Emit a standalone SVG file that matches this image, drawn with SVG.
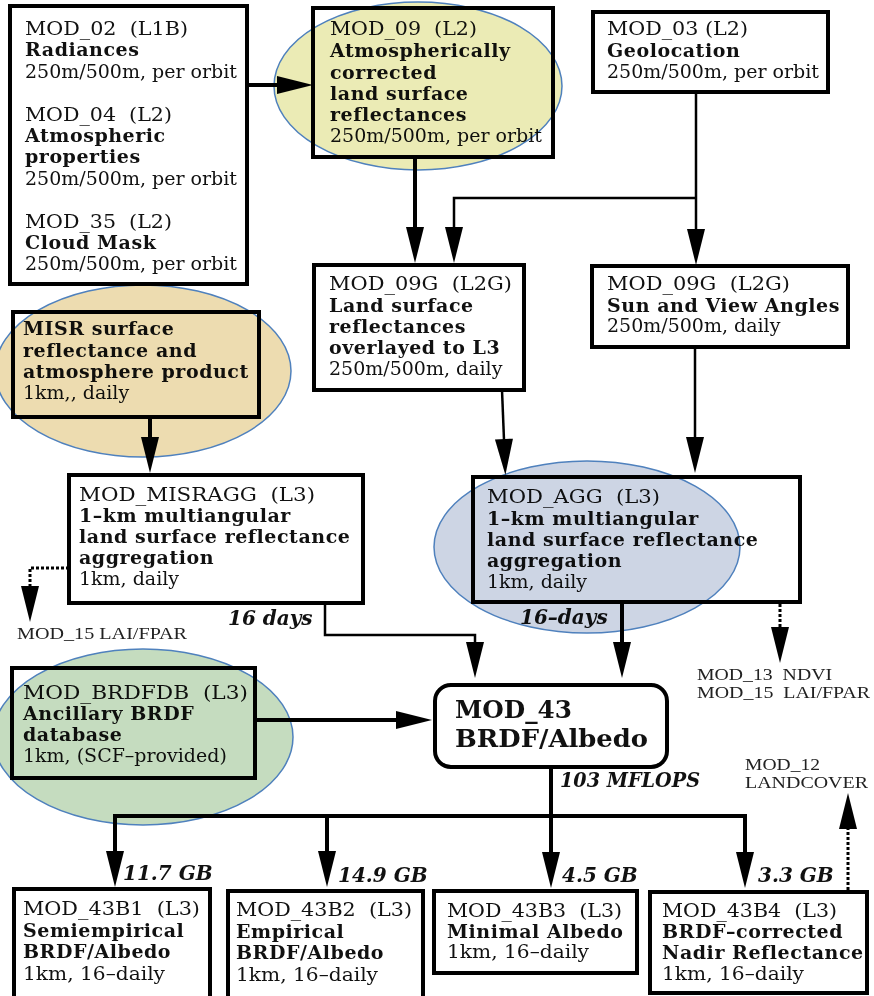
<svg xmlns="http://www.w3.org/2000/svg" width="874" height="996" viewBox="0 0 874 996">
<style>
.bg{fill:#fff}
.box{fill:#fff;stroke:#000;stroke-width:4}
.t{font-family:"DejaVu Serif",serif;font-size:19px;fill:#111}
.b{font-weight:bold;letter-spacing:0.55px}
.bi{font-family:"DejaVu Serif",serif;font-size:20px;font-weight:bold;font-style:italic;fill:#111}
.s{font-family:"Liberation Serif",serif;font-size:16.5px;fill:#222}
.big{font-family:"DejaVu Serif",serif;font-size:24px;font-weight:bold;fill:#111}
.c{fill:none;stroke:#000}
.thick{stroke-width:4}
.thin{stroke-width:2.5}
.dot{stroke-width:3;stroke-dasharray:3 2}
.ell{stroke:#4f81bd;stroke-width:1.5;mix-blend-mode:multiply}
</style>
<defs>
<marker id="ah" markerUnits="userSpaceOnUse" markerWidth="36" markerHeight="18" refX="26" refY="9" orient="auto" overflow="visible">
<path d="M0,0 L36,9 L0,18 z" fill="#000"/>
</marker>
</defs>
<rect class="bg" x="0" y="0" width="874" height="996"/>

<g id="connectors">
<path class="c thick" d="M247,85 H303" marker-end="url(#ah)"/>
<path class="c thick" d="M415,157 V253" marker-end="url(#ah)"/>
<path class="c thin" d="M696,92 V255" marker-end="url(#ah)"/>
<path class="c thin" d="M696,198 H454 V253" marker-end="url(#ah)"/>
<path class="c thin" d="M502,390 L505,465" marker-end="url(#ah)"/>
<path class="c thin" d="M695,347 V463" marker-end="url(#ah)"/>
<path class="c thick" d="M150,417 V463" marker-end="url(#ah)"/>
<path class="c thin" d="M325,603 V635 H475 V668" marker-end="url(#ah)"/>
<path class="c thick" d="M622,602 V668" marker-end="url(#ah)"/>
<path class="c thick" d="M255,720 H422" marker-end="url(#ah)"/>
<path class="c thick" d="M551,767 V878" marker-end="url(#ah)"/>
<path class="c thick" d="M115,816 H745" />
<path class="c thick" d="M115,814 V877" marker-end="url(#ah)"/>
<path class="c thick" d="M327,816 V877" marker-end="url(#ah)"/>
<path class="c thick" d="M745,814 V878" marker-end="url(#ah)"/>
<path class="c dot" d="M69,568 H30 V612" marker-end="url(#ah)"/>
<path class="c dot" d="M780,604 V653" marker-end="url(#ah)"/>
<path class="c dot" d="M848,890 V803" marker-end="url(#ah)"/>
<text class="bi" x="228" y="625">16 days</text>
<text class="bi" x="520" y="624">16–days</text>
<text class="bi" x="560" y="787" textLength="140" lengthAdjust="spacingAndGlyphs">103 MFLOPS</text>
<text class="bi" x="123" y="880">11.7 GB</text>
<text class="bi" x="338" y="882">14.9 GB</text>
<text class="bi" x="562" y="882">4.5 GB</text>
<text class="bi" x="758" y="882">3.3 GB</text>
</g>

<g id="mod02">
<rect class="box" x="10" y="6" width="237" height="278"/>
<text class="t" x="25" y="35" textLength="163" lengthAdjust="spacingAndGlyphs">MOD_02&#160; (L1B)</text>
<text class="t b" x="25" y="56.4">Radiances</text>
<text class="t" x="25" y="77.8">250m/500m, per orbit</text>
<text class="t" x="25" y="120.6" textLength="147" lengthAdjust="spacingAndGlyphs">MOD_04&#160; (L2)</text>
<text class="t b" x="25" y="142">Atmospheric</text>
<text class="t b" x="25" y="163.4">properties</text>
<text class="t" x="25" y="184.8">250m/500m, per orbit</text>
<text class="t" x="25" y="227.6" textLength="147" lengthAdjust="spacingAndGlyphs">MOD_35&#160; (L2)</text>
<text class="t b" x="25" y="249">Cloud Mask</text>
<text class="t" x="25" y="270.4">250m/500m, per orbit</text>
</g>

<g id="mod09">
<rect class="box" x="313" y="8" width="240" height="149"/>
<text class="t" x="330" y="35" textLength="147" lengthAdjust="spacingAndGlyphs">MOD_09&#160; (L2)</text>
<text class="t b" x="330" y="57">Atmospherically</text>
<text class="t b" x="330" y="78.5">corrected</text>
<text class="t b" x="330" y="100">land surface</text>
<text class="t b" x="330" y="121">reflectances</text>
<text class="t" x="330" y="142">250m/500m, per orbit</text>
<ellipse class="ell" cx="418" cy="86" rx="144" ry="84" fill="#ebebb5"/>
</g>

<g id="mod03">
<rect class="box" x="593" y="12" width="235" height="80"/>
<text class="t" x="607" y="35" textLength="141" lengthAdjust="spacingAndGlyphs">MOD_03 (L2)</text>
<text class="t b" x="607" y="57">Geolocation</text>
<text class="t" x="607" y="78">250m/500m, per orbit</text>
</g>

<g id="mod09g_land">
<rect class="box" x="314" y="265" width="210" height="125"/>
<text class="t" x="329" y="290" textLength="183" lengthAdjust="spacingAndGlyphs">MOD_09G&#160; (L2G)</text>
<text class="t b" x="329" y="311.5">Land surface</text>
<text class="t b" x="329" y="333">reflectances</text>
<text class="t b" x="329" y="354">overlayed to L3</text>
<text class="t" x="329" y="375">250m/500m, daily</text>
</g>

<g id="mod09g_angles">
<rect class="box" x="592" y="266" width="256" height="81"/>
<text class="t" x="607" y="290" textLength="183" lengthAdjust="spacingAndGlyphs">MOD_09G&#160; (L2G)</text>
<text class="t b" x="607" y="311.5">Sun and View Angles</text>
<text class="t" x="607" y="332">250m/500m, daily</text>
</g>

<g id="misr">
<rect class="box" x="13" y="312" width="246" height="105"/>
<text class="t b" x="23" y="335">MISR surface</text>
<text class="t b" x="23" y="356.5">reflectance and</text>
<text class="t b" x="23" y="378">atmosphere product</text>
<text class="t" x="23" y="398.5">1km,, daily</text>
<ellipse class="ell" cx="143" cy="371" rx="148" ry="86" fill="#eddcb0"/>
</g>

<g id="mod_misragg">
<rect class="box" x="69" y="475" width="294" height="128"/>
<text class="t" x="79" y="501" textLength="236" lengthAdjust="spacingAndGlyphs">MOD_MISRAGG&#160; (L3)</text>
<text class="t b" x="79" y="522">1–km multiangular</text>
<text class="t b" x="79" y="543">land surface reflectance</text>
<text class="t b" x="79" y="564">aggregation</text>
<text class="t" x="79" y="585">1km, daily</text>
</g>

<g id="mod15_left">
<text class="s" x="17" y="639" textLength="170" lengthAdjust="spacingAndGlyphs">MOD_15 LAI/FPAR</text>
</g>

<g id="mod_agg">
<rect class="box" x="473" y="477" width="327" height="125"/>
<text class="t" x="487" y="503" textLength="173" lengthAdjust="spacingAndGlyphs">MOD_AGG&#160; (L3)</text>
<text class="t b" x="487" y="524.5">1–km multiangular</text>
<text class="t b" x="487" y="546">land surface reflectance</text>
<text class="t b" x="487" y="567">aggregation</text>
<text class="t" x="487" y="588">1km, daily</text>
<ellipse class="ell" cx="587" cy="547" rx="153" ry="86" fill="#cdd5e4"/>
</g>

<g id="mod13_mod15">
<text class="s" x="697" y="679.5" textLength="135" lengthAdjust="spacingAndGlyphs">MOD_13&#160; NDVI</text>
<text class="s" x="697" y="698" textLength="173" lengthAdjust="spacingAndGlyphs">MOD_15&#160; LAI/FPAR</text>
</g>

<g id="mod_brdfdb">
<rect class="box" x="12" y="668" width="243" height="110"/>
<text class="t" x="23" y="699" textLength="225" lengthAdjust="spacingAndGlyphs">MOD_BRDFDB&#160; (L3)</text>
<text class="t b" x="23" y="720">Ancillary BRDF</text>
<text class="t b" x="23" y="741">database</text>
<text class="t" x="23" y="762">1km, (SCF–provided)</text>
<ellipse class="ell" cx="143" cy="737" rx="150" ry="88" fill="#c5dcbf"/>
</g>

<g id="mod43">
<rect class="box" x="435" y="685" width="232" height="82" rx="16" ry="16"/>
<text class="big" x="455" y="718" textLength="117" lengthAdjust="spacingAndGlyphs">MOD_43</text>
<text class="big" x="455" y="746.5" textLength="193" lengthAdjust="spacingAndGlyphs">BRDF/Albedo</text>
</g>

<g id="mod12">
<text class="s" x="745" y="769.5" textLength="75" lengthAdjust="spacingAndGlyphs">MOD_12</text>
<text class="s" x="745" y="788" textLength="123" lengthAdjust="spacingAndGlyphs">LANDCOVER</text>
</g>

<g id="mod43b1">
<rect class="box" x="14" y="889" width="196" height="120"/>
<text class="t" x="23" y="915" textLength="177" lengthAdjust="spacingAndGlyphs">MOD_43B1&#160; (L3)</text>
<text class="t b" x="23" y="936.5">Semiempirical</text>
<text class="t b" x="23" y="958">BRDF/Albedo</text>
<text class="t" x="23" y="979.5" textLength="142" lengthAdjust="spacingAndGlyphs">1km, 16–daily</text>
</g>

<g id="mod43b2">
<rect class="box" x="228" y="891" width="195" height="120"/>
<text class="t" x="236" y="916" textLength="176" lengthAdjust="spacingAndGlyphs">MOD_43B2&#160; (L3)</text>
<text class="t b" x="236" y="937.5">Empirical</text>
<text class="t b" x="236" y="959">BRDF/Albedo</text>
<text class="t" x="236" y="980.5" textLength="142" lengthAdjust="spacingAndGlyphs">1km, 16–daily</text>
</g>

<g id="mod43b3">
<rect class="box" x="434" y="891" width="203" height="82"/>
<text class="t" x="447" y="917" textLength="175" lengthAdjust="spacingAndGlyphs">MOD_43B3&#160; (L3)</text>
<text class="t b" x="447" y="937.5">Minimal Albedo</text>
<text class="t" x="447" y="958" textLength="142" lengthAdjust="spacingAndGlyphs">1km, 16–daily</text>
</g>

<g id="mod43b4">
<rect class="box" x="650" y="892" width="217" height="101"/>
<text class="t" x="662" y="917" textLength="175" lengthAdjust="spacingAndGlyphs">MOD_43B4&#160; (L3)</text>
<text class="t b" x="662" y="937.5">BRDF–corrected</text>
<text class="t b" x="662" y="959">Nadir Reflectance</text>
<text class="t" x="662" y="980" textLength="142" lengthAdjust="spacingAndGlyphs">1km, 16–daily</text>
</g>
</svg>
